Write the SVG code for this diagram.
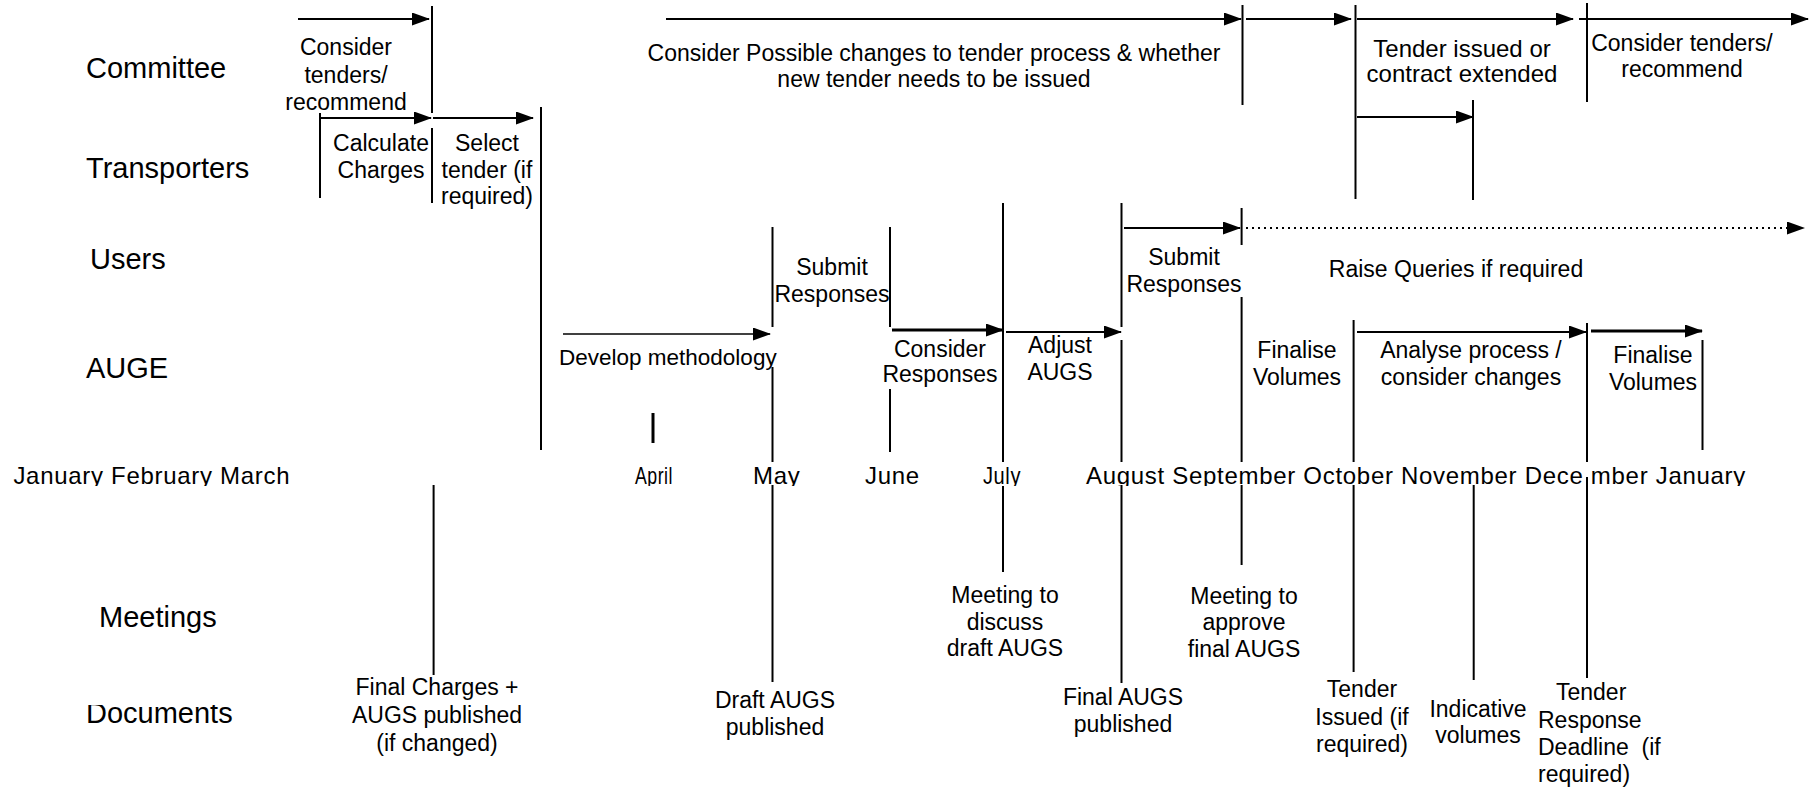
<svg xmlns="http://www.w3.org/2000/svg" width="1814" height="789" viewBox="0 0 1814 789">
<style>
text{font-family:"Liberation Sans",Arial,sans-serif;fill:#000}
.lane{font-size:29px}
.lbl{font-size:23px;text-anchor:middle}
.lbs{font-size:23px}
.big{font-size:24px}
.mon{font-size:24px;letter-spacing:0.7px}
.ln{stroke:#000;stroke-width:2;fill:none}
.th{stroke-width:3}
.tn{stroke-width:1.6}
.ar{marker-end:url(#ah)}
.dot{stroke-dasharray:2 4}
</style>
<defs>
<marker id="ah" markerUnits="userSpaceOnUse" markerWidth="18" markerHeight="13" refX="17" refY="6.5" orient="auto">
<path d="M0,0 L18,6.5 L0,13 Z" fill="#000"/>
</marker>
<clipPath id="monthClip"><rect x="0" y="455" width="1814" height="31"/></clipPath>
<clipPath id="docClip"><rect x="0" y="705" width="400" height="40"/></clipPath>
</defs>
<rect width="1814" height="789" fill="#fff"/>

<g id="lanes">
<g id="lane-committee"><text class="lane" x="86" y="78">Committee</text></g>
<g id="lane-transporters"><text class="lane" x="86" y="178">Transporters</text></g>
<g id="lane-users"><text class="lane" x="90" y="269">Users</text></g>
<g id="lane-auge"><text class="lane" x="86" y="378">AUGE</text></g>
<g id="lane-meetings"><text class="lane" x="99" y="627">Meetings</text></g>
<g id="lane-documents" clip-path="url(#docClip)"><text class="lane" x="86" y="723">Documents</text></g>
</g>

<g id="months" clip-path="url(#monthClip)">
<text class="mon" x="13.4" y="484">January February March</text>
<text class="mon" x="635" y="484" textLength="38" lengthAdjust="spacingAndGlyphs">April</text>
<text class="mon" x="753" y="484">May</text>
<text class="mon" x="865" y="484">June</text>
<text class="mon" x="983" y="484" textLength="38" lengthAdjust="spacingAndGlyphs">July</text>
<text class="mon" x="1086" y="484" xml:space="preserve">August September October November Dece mber January</text>
</g>

<g id="connectors">
<line class="ln ar" x1="298" y1="19" x2="429" y2="19"/>
<line class="ln ar" x1="666" y1="19" x2="1241" y2="19"/>
<line class="ln ar" x1="1246" y1="19" x2="1351" y2="19"/>
<line class="ln ar" x1="1357" y1="19" x2="1573" y2="19"/>
<line class="ln ar" x1="1579" y1="19" x2="1808" y2="19"/>
<line class="ln ar" x1="320" y1="118" x2="431" y2="118"/>
<line class="ln ar" x1="433" y1="118" x2="533" y2="118"/>
<line class="ln ar" x1="1357" y1="117" x2="1473" y2="117"/>
<line class="ln ar" x1="1124" y1="228" x2="1240" y2="228"/>
<line class="ln ar dot" x1="1246" y1="228" x2="1804" y2="228"/>
<line class="ln ar tn" x1="563" y1="334" x2="770" y2="334"/>
<line class="ln ar th" x1="892" y1="330" x2="1003" y2="330"/>
<line class="ln ar" x1="1006" y1="332" x2="1121" y2="332"/>
<line class="ln ar" x1="1357" y1="332" x2="1586" y2="332"/>
<line class="ln ar th" x1="1591" y1="331" x2="1702" y2="331"/>
<line class="ln" x1="432" y1="6" x2="432" y2="113"/>
<line class="ln" x1="432" y1="128" x2="432" y2="203"/>
<line class="ln" x1="320" y1="113" x2="320" y2="198"/>
<line class="ln" x1="541" y1="107" x2="541" y2="450"/>
<line class="ln" x1="1242.5" y1="5" x2="1242.5" y2="105"/>
<line class="ln" x1="1355.5" y1="5" x2="1355.5" y2="199"/>
<line class="ln" x1="1587" y1="3" x2="1587" y2="102"/>
<line class="ln" x1="1473" y1="100" x2="1473" y2="200"/>
<line class="ln th" x1="653" y1="413" x2="653" y2="443"/>
<line class="ln" x1="772.5" y1="227" x2="772.5" y2="327"/>
<line class="ln" x1="772.5" y1="367" x2="772.5" y2="462"/>
<line class="ln" x1="772.5" y1="485" x2="772.5" y2="682"/>
<line class="ln" x1="890" y1="227" x2="890" y2="327"/>
<line class="ln" x1="890" y1="389" x2="890" y2="452"/>
<line class="ln" x1="1003" y1="203" x2="1003" y2="462"/>
<line class="ln" x1="1003" y1="486" x2="1003" y2="572"/>
<line class="ln" x1="1121.5" y1="203" x2="1121.5" y2="327"/>
<line class="ln" x1="1121.5" y1="340" x2="1121.5" y2="462"/>
<line class="ln" x1="1121.5" y1="485" x2="1121.5" y2="683"/>
<line class="ln" x1="1241.6" y1="208" x2="1241.6" y2="245"/>
<line class="ln" x1="1241.6" y1="297" x2="1241.6" y2="462"/>
<line class="ln" x1="1241.6" y1="485" x2="1241.6" y2="565"/>
<line class="ln" x1="1353.6" y1="320" x2="1353.6" y2="462"/>
<line class="ln" x1="1353.6" y1="485" x2="1353.6" y2="672"/>
<line class="ln" x1="1473.7" y1="485" x2="1473.7" y2="680"/>
<line class="ln" x1="1587" y1="323" x2="1587" y2="462"/>
<line class="ln" x1="1587" y1="477" x2="1587" y2="678"/>
<line class="ln" x1="1702.5" y1="340" x2="1702.5" y2="450"/>
<line class="ln" x1="433.6" y1="485" x2="433.6" y2="675"/>
</g>

<g id="n-consider-tenders-1"><text class="lbl" x="346"><tspan x="346" y="55">Consider</tspan><tspan x="346" y="83">tenders/</tspan><tspan x="346" y="110">recommend</tspan></text></g>
<g id="n-consider-changes"><text class="lbl" x="934"><tspan x="934" y="61">Consider Possible changes to tender process &amp; whether</tspan><tspan x="934" y="87">new tender needs to be issued</tspan></text></g>
<g id="n-tender-issued"><text class="lbl big" x="1462"><tspan x="1462" y="57">Tender issued or</tspan><tspan x="1462" y="82">contract extended</tspan></text></g>
<g id="n-consider-tenders-2"><text class="lbl" x="1682"><tspan x="1682" y="51">Consider tenders/</tspan><tspan x="1682" y="77">recommend</tspan></text></g>
<g id="n-calculate"><text class="lbl" x="381"><tspan x="381" y="151">Calculate</tspan><tspan x="381" y="178">Charges</tspan></text></g>
<g id="n-select"><text class="lbl" x="487"><tspan x="487" y="151">Select</tspan><tspan x="487" y="178">tender (if</tspan><tspan x="487" y="204">required)</tspan></text></g>
<g id="n-submit-1"><text class="lbl" x="832"><tspan x="832" y="275">Submit</tspan><tspan x="832" y="302">Responses</tspan></text></g>
<g id="n-submit-2"><text class="lbl" x="1184"><tspan x="1184" y="265">Submit</tspan><tspan x="1184" y="292">Responses</tspan></text></g>
<g id="n-raise"><text class="lbl" x="1456" y="277">Raise Queries if required</text></g>
<g id="n-develop"><text class="lbs" x="559" y="365" style="font-size:22.5px">Develop methodology</text></g>
<g id="n-consider-responses"><text class="lbl" x="940"><tspan x="940" y="357">Consider</tspan><tspan x="940" y="382">Responses</tspan></text></g>
<g id="n-adjust"><text class="lbl" x="1060"><tspan x="1060" y="353">Adjust</tspan><tspan x="1060" y="380">AUGS</tspan></text></g>
<g id="n-finalise-1"><text class="lbl" x="1297"><tspan x="1297" y="358">Finalise</tspan><tspan x="1297" y="385">Volumes</tspan></text></g>
<g id="n-analyse"><text class="lbl" x="1471"><tspan x="1471" y="358">Analyse process /</tspan><tspan x="1471" y="385">consider changes</tspan></text></g>
<g id="n-finalise-2"><text class="lbl" x="1653"><tspan x="1653" y="363">Finalise</tspan><tspan x="1653" y="390">Volumes</tspan></text></g>
<g id="n-meeting-draft"><text class="lbl" x="1005"><tspan x="1005" y="603">Meeting to</tspan><tspan x="1005" y="630">discuss</tspan><tspan x="1005" y="656">draft AUGS</tspan></text></g>
<g id="n-meeting-final"><text class="lbl" x="1244"><tspan x="1244" y="604">Meeting to</tspan><tspan x="1244" y="630">approve</tspan><tspan x="1244" y="657">final AUGS</tspan></text></g>
<g id="n-final-charges"><text class="lbl" x="437"><tspan x="437" y="695">Final Charges +</tspan><tspan x="437" y="723">AUGS published</tspan><tspan x="437" y="751">(if changed)</tspan></text></g>
<g id="n-draft-augs"><text class="lbl" x="775"><tspan x="775" y="708">Draft AUGS</tspan><tspan x="775" y="735">published</tspan></text></g>
<g id="n-final-augs"><text class="lbl" x="1123"><tspan x="1123" y="705">Final AUGS</tspan><tspan x="1123" y="732">published</tspan></text></g>
<g id="n-tender-issued-doc"><text class="lbl" x="1362"><tspan x="1362" y="697">Tender</tspan><tspan x="1362" y="725">Issued (if</tspan><tspan x="1362" y="752">required)</tspan></text></g>
<g id="n-indicative"><text class="lbl" x="1478"><tspan x="1478" y="717">Indicative</tspan><tspan x="1478" y="743">volumes</tspan></text></g>
<g id="n-tender-response"><text class="lbs" xml:space="preserve"><tspan x="1556" y="700">Tender</tspan><tspan x="1538" y="728">Response</tspan><tspan x="1538" y="755">Deadline  (if</tspan><tspan x="1538" y="782">required)</tspan></text></g>
</svg>
